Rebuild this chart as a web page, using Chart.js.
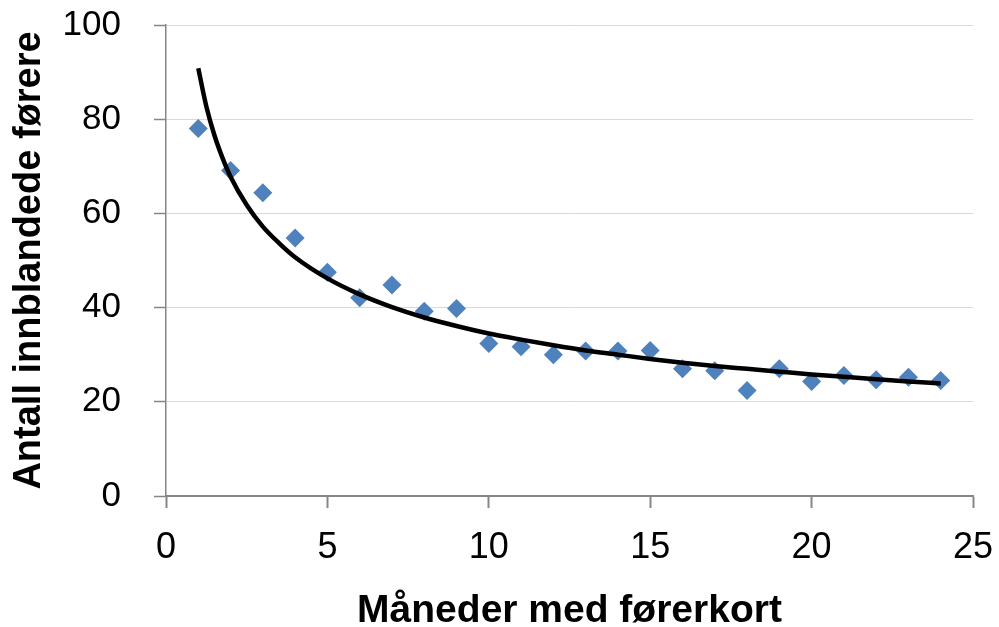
<!DOCTYPE html>
<html>
<head>
<meta charset="utf-8">
<script src="https://cdn.jsdelivr.net/npm/chart.js@4"></script>
<style>
  html, body { margin: 0; padding: 0; background: #fff; }
  #wrap { width: 999px; height: 627px; }
</style>
</head>
<body>
<div id="wrap"><canvas id="chart" width="999" height="627"></canvas></div>
<script>
// Months with licence (x) and number of drivers involved (y)
const months = [1, 2, 3, 4, 5, 6, 7, 8, 9, 10, 11, 12, 13, 14, 15, 16, 17, 18, 19, 20, 21, 22, 23, 24];
const drivers = [78, 69.1, 64.4, 54.8, 47.5, 42.1, 44.8, 39.2, 39.8, 32.4, 31.7, 30.0, 30.8, 30.8, 30.9, 27.0, 26.6, 22.4, 27.0, 24.3, 25.6, 24.7, 25.2, 24.5];

// Trend line (power)
const trendX = [1, 1.25, 1.5, 1.75, 2, 2.5, 3, 3.5, 4, 5, 6, 7, 8, 9, 10, 11, 12, 13, 14, 15, 16, 17, 18, 19, 20, 21, 22, 23, 24];
const trendY = [90.8, 82.7, 76.6, 71.8, 67.8, 61.8, 57.2, 53.7, 50.7, 46.2, 42.8, 40.1, 37.9, 36.1, 34.5, 33.2, 32.0, 30.9, 30.0, 29.1, 28.3, 27.6, 27.0, 26.4, 25.8, 25.3, 24.8, 24.3, 23.9];

const xTicks = [0, 5, 10, 15, 20, 25];
const yTicks = [0, 20, 40, 60, 80, 100];

const axisGray = '#868686';
const gridGray = '#d9d9d9';

new Chart(document.getElementById('chart').getContext('2d'), {
    type: 'scatter',
    data: {
        datasets: [{
            label: 'Trend',
            data: trendX.map((x, i) => ({ x: x, y: trendY[i] })),
            showLine: true,
            borderColor: '#000',
            borderWidth: 4.5,
            pointRadius: 0,
            cubicInterpolationMode: 'monotone',
            fill: false
        }, {
            label: 'Antall',
            data: months.map((x, i) => ({ x: x, y: drivers[i] })),
            pointStyle: 'rectRot',
            pointRadius: 9.5,
            pointBackgroundColor: '#4F81BD',
            pointBorderColor: '#4F81BD',
            pointBorderWidth: 0
        }]
    },
    options: {
        responsive: false,
        animation: false,
        layout: { padding: { left: 0, right: 26, top: 25, bottom: 0 } },
        plugins: {
            legend: { display: false },
            tooltip: { enabled: false }
        },
        scales: {
            x: {
                type: 'linear',
                min: 0,
                max: 25,
                afterBuildTicks: (scale) => { scale.ticks = xTicks.map(v => ({ value: v })); },
                afterFit: (scale) => {
                    scale.height = 131;
                    scale.paddingLeft = 0;
                    scale.paddingRight = 0;
                },
                grid: { color: 'rgba(0,0,0,0)', tickColor: axisGray, tickLength: 12, tickWidth: 2 },
                border: { color: axisGray, width: 2 },
                ticks: {
                    color: '#000',
                    padding: 18,
                    font: { family: 'Liberation Sans', size: 36 }
                },
                title: {
                    display: true,
                    text: 'Måneder med førerkort',
                    color: '#000',
                    font: { family: 'Liberation Sans', size: 39, weight: 'bold', lineHeight: 0.9 },
                    padding: { top: 0, bottom: -2 }
                }
            },
            y: {
                type: 'linear',
                min: 0,
                max: 100,
                afterBuildTicks: (scale) => { scale.ticks = yTicks.map(v => ({ value: v })); },
                afterFit: (scale) => {
                    scale.width = 166;
                    scale.paddingTop = 0;
                    scale.paddingBottom = 0;
                },
                grid: { color: gridGray, tickColor: axisGray, tickLength: 12, tickWidth: 1.5 },
                border: { color: axisGray, width: 1.5 },
                ticks: {
                    color: '#000',
                    padding: 33,
                    font: { family: 'Liberation Sans', size: 35 }
                },
                title: {
                    display: true,
                    text: 'Antall innblandede førere',
                    color: '#000',
                    font: { family: 'Liberation Sans', size: 38, weight: 'bold', lineHeight: 1 },
                    padding: { top: 11, bottom: 0 }
                }
            }
        }
    }
});
</script>
</body>
</html>
